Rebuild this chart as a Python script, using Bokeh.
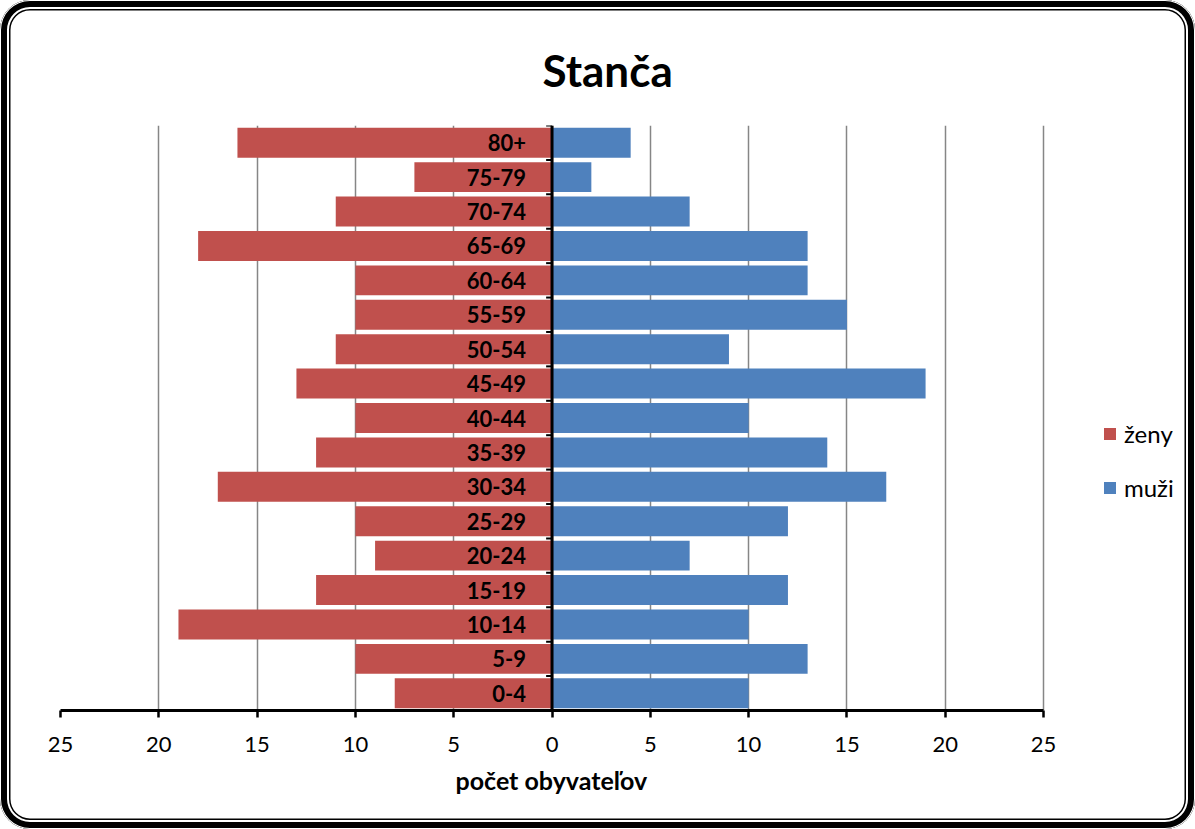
import numpy as np
from bokeh.plotting import figure
from bokeh.models import ColumnDataSource, FixedTicker, Legend, LegendItem, Range1d, Span, Title
from bokeh.core.properties import value
from bokeh.embed import file_html
from bokeh.resources import INLINE

# ---- data (bottom to top) ----
age_groups = ["0-4", "5-9", "10-14", "15-19", "20-24", "25-29", "30-34", "35-39",
              "40-44", "45-49", "50-54", "55-59", "60-64", "65-69", "70-74", "75-79", "80+"]
zeny = [8, 10, 19, 12, 9, 10, 17, 12, 10, 13, 11, 10, 10, 18, 11, 7, 16]
muzi = [10, 13, 10, 12, 7, 12, 17, 14, 10, 19, 9, 15, 13, 13, 7, 2, 4]
tick_values = [-25, -20, -15, -10, -5, 0, 5, 10, 15, 20, 25]
tick_labels = ["25", "20", "15", "10", "5", "0", "5", "10", "15", "20", "25"]
title_text = "Stanča"
x_label = "počet obyvateľov"
series_names = ["ženy", "muži"]

RED = "#C0504D"
BLUE = "#4F81BD"
FONT = "Lato"

n = len(age_groups)
ypos = np.arange(n) + 0.5
src = ColumnDataSource(dict(
    y=ypos,
    age=age_groups,
    zeny_neg=[-v for v in zeny],
    muzi=muzi,
    zero=[0] * n,
))
bounds = np.arange(n + 1)
tick_src = ColumnDataSource(dict(y=bounds, x0=[0] * (n + 1), x1=[-0.3] * (n + 1)))

# frame extends right of the +25 limit to make room for the legend
p = figure(width=1195, height=829, output_backend="svg", toolbar_location=None,
           x_range=Range1d(-25, 32.22), y_range=Range1d(0, n),
           min_border_left=60, min_border_right=10, min_border_top=125, min_border_bottom=119)
p.outline_line_color = None
p.border_fill_color = None
p.background_fill_color = None
p.styles = {
    "border-radius": "30px",
    "box-shadow": "inset 0 0 0 1px #fff, inset 0 0 0 7px #000, inset 0 0 0 9px #fff, inset 0 0 0 10.5px #000",
}

# grid
p.xgrid.ticker = FixedTicker(ticks=tick_values)
p.xgrid.grid_line_color = "#868686"
p.xgrid.grid_line_width = 1.5
p.ygrid.grid_line_color = None

r_z = p.hbar(y="y", left="zeny_neg", right="zero", height=0.87, source=src,
             fill_color=RED, line_color=None)
r_m = p.hbar(y="y", left="zero", right="muzi", height=0.87, source=src,
             fill_color=BLUE, line_color=None)

# central vertical axis with small ticks at category boundaries
p.add_layout(Span(location=0, dimension="height", line_color="black", line_width=3))
p.segment(x0="x0", y0="y", x1="x1", y1="y", source=tick_src, line_color="black", line_width=2)

# category labels
p.text(x="zero", y="y", text="age", source=src, x_offset=-26,
       text_align="right", text_baseline="middle",
       text_font=value(FONT), text_font_size="22px", text_font_style="bold",
       text_color="black")

# title
p.title.text = title_text
p.title.text_font = FONT
p.title.text_font_size = "44px"
p.title.text_font_style = "bold"
p.title.text_color = "black"
p.title.align = "left"
p.title.offset = 482
p.title.standoff = 59

# x axis
p.xaxis.ticker = FixedTicker(ticks=tick_values)
p.xaxis.bounds = (-25, 25)
p.xaxis.major_label_overrides = {v: l for v, l in zip(tick_values, tick_labels)}
p.xaxis.axis_line_width = 3
p.xaxis.axis_line_color = "black"
p.xaxis.major_tick_out = 7
p.xaxis.major_tick_in = 0
p.xaxis.major_tick_line_width = 2.5
p.xaxis.major_tick_line_color = "black"
p.xaxis.minor_tick_line_color = None
p.xaxis.major_label_text_font = FONT
p.xaxis.major_label_text_font_size = "22px"
p.xaxis.major_label_text_color = "black"
p.xaxis.major_label_standoff = 19
p.yaxis.visible = False

# x axis title, centred under the -25..25 scale
xt = Title(text=x_label, text_font=FONT, text_font_size="25px", text_font_style="bold",
           text_color="black", align="left", offset=395, standoff=17)
p.add_layout(xt, "below")

# legend
legend = Legend(items=[LegendItem(label=series_names[0], renderers=[r_z]),
                       LegendItem(label=series_names[1], renderers=[r_m])],
                location=(1042, 208), orientation="vertical")
legend.border_line_color = None
legend.background_fill_color = None
legend.background_fill_alpha = 0
legend.padding = 0
legend.margin = 0
legend.glyph_width = 15
legend.glyph_height = 15
legend.label_height = 24
legend.spacing = 25
legend.label_standoff = 7
legend.label_text_font = FONT
legend.label_text_font_size = "24px"
legend.label_text_color = "black"
p.add_layout(legend, "center")

open("out.html", "w").write(file_html(p, INLINE))
